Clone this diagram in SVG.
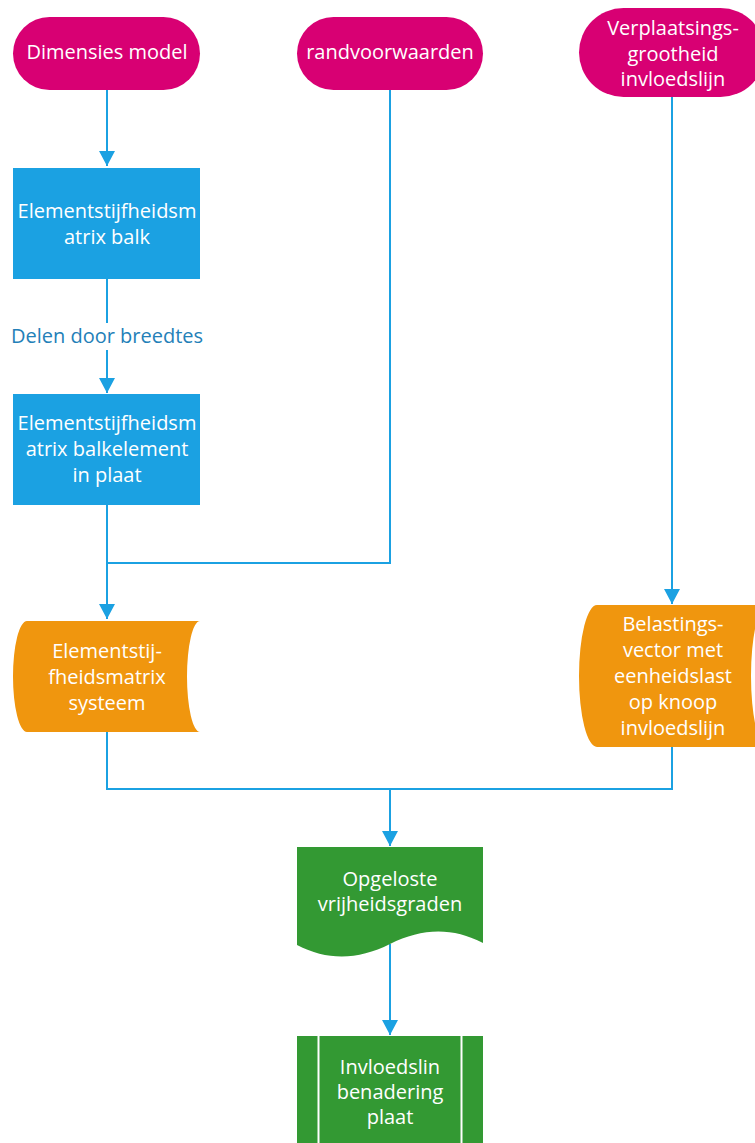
<svg xmlns="http://www.w3.org/2000/svg" width="755" height="1143" viewBox="0 0 755 1143">
<style>
.t{font-family:"Open Sans","Noto Sans","DejaVu Sans",sans-serif;font-size:20px;fill:#ffffff;text-anchor:middle}
.lbl{font-family:"Open Sans","Noto Sans","DejaVu Sans",sans-serif;font-size:20px;fill:#2380b8;text-anchor:middle}
.c{fill:none;stroke:#1ba1e2;stroke-width:2}
.mag{fill:#d80073}
.blu{fill:#1ba1e2}
.ora{fill:#f0960e}
.grn{fill:#339933}
</style>
<defs>
<marker id="ah" markerUnits="userSpaceOnUse" viewBox="0 0 15 16" refX="15" refY="8" markerWidth="15" markerHeight="16" orient="auto">
<path d="M0,0 L15,8 L0,16 z" fill="#1ba1e2"/>
</marker>
</defs>
<rect width="755" height="1143" fill="#ffffff"/>
<g id="connectors">
<path class="c" d="M107,90 V166" marker-end="url(#ah)"/>
<path class="c" d="M107,279 V393" marker-end="url(#ah)"/>
<path class="c" d="M107,505 V619" marker-end="url(#ah)"/>
<path class="c" d="M390,90 V563 H107"/>
<path class="c" d="M672,97 V604" marker-end="url(#ah)"/>
<path class="c" d="M107,732 V789 H672 V747"/>
<path class="c" d="M390,789 V846" marker-end="url(#ah)"/>
<path class="c" d="M390,944 V1035" marker-end="url(#ah)"/>
<rect x="6" y="323" width="202" height="27" fill="#ffffff"/>
<text class="lbl" x="107" y="343">Delen door breedtes</text>
</g>
<g id="n1">
<rect class="mag" x="13" y="17" width="187" height="73" rx="36.5" ry="36.5"/>
<text class="t" x="107" y="59">Dimensies model</text>
</g>
<g id="n2">
<rect class="mag" x="297" y="17" width="186" height="73" rx="36.5" ry="36.5"/>
<text class="t" x="390" y="59">randvoorwaarden</text>
</g>
<g id="n3">
<rect class="mag" x="579" y="8" width="186" height="89" rx="44.5" ry="44.5"/>
<text class="t" x="673" y="35">Verplaatsings-</text>
<text class="t" x="673" y="60.5">grootheid</text>
<text class="t" x="673" y="86">invloedslijn</text>
</g>
<g id="n4">
<rect class="blu" x="13" y="168" width="187" height="111"/>
<text class="t" x="107" y="218">Elementstijfheidsm</text>
<text class="t" x="107" y="244">atrix balk</text>
</g>
<g id="n5">
<rect class="blu" x="13" y="394" width="187" height="111"/>
<text class="t" x="107" y="430">Elementstijfheidsm</text>
<text class="t" x="107" y="456">atrix balkelement</text>
<text class="t" x="107" y="482">in plaat</text>
</g>
<g id="n6">
<path class="ora" d="M27,621 H200 A13,55.5 0 0 0 200,732 H27 A14,55.5 0 0 1 27,621 Z"/>
<text class="t" x="107" y="658">Elementstij-</text>
<text class="t" x="107" y="684">fheidsmatrix</text>
<text class="t" x="107" y="710">systeem</text>
</g>
<g id="n7">
<path class="ora" d="M597,605 H767 A16,71 0 0 0 767,747 H597 A18,71 0 0 1 597,605 Z"/>
<text class="t" x="673" y="631">Belastings-</text>
<text class="t" x="673" y="657">vector met</text>
<text class="t" x="673" y="683">eenheidslast</text>
<text class="t" x="673" y="709">op knoop</text>
<text class="t" x="673" y="735">invloedslijn</text>
</g>
<g id="n8">
<path class="grn" d="M297,847 H483 V943 C452,927 422,928 390,944 C358,960 328,961 297,945 Z"/>
<text class="t" x="390" y="886">Opgeloste</text>
<text class="t" x="390" y="911">vrijheidsgraden</text>
</g>
<g id="n9">
<rect class="grn" x="297" y="1036" width="186" height="107"/>
<line x1="318.5" y1="1036" x2="318.5" y2="1143" stroke="#ffffff" stroke-width="2"/>
<line x1="461.5" y1="1036" x2="461.5" y2="1143" stroke="#ffffff" stroke-width="2"/>
<text class="t" x="390" y="1074">Invloedslin</text>
<text class="t" x="390" y="1099">benadering</text>
<text class="t" x="390" y="1124">plaat</text>
</g>
</svg>
